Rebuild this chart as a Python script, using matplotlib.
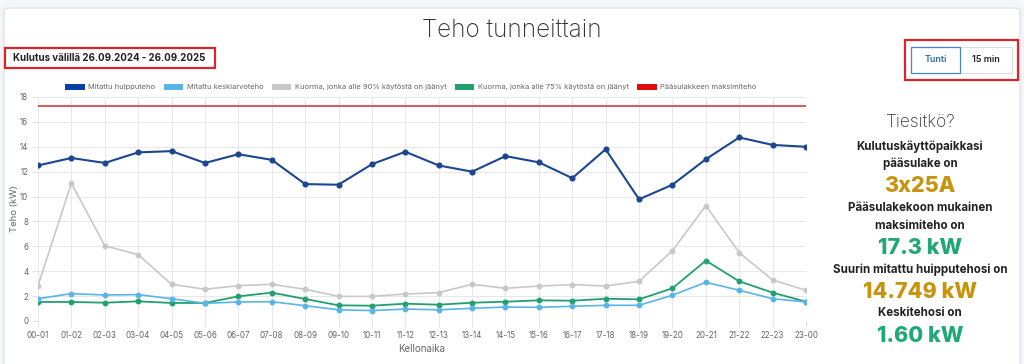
import matplotlib
matplotlib.use("Agg")
import matplotlib.pyplot as plt
from matplotlib.patches import FancyBboxPatch, Rectangle, Patch

W, H = 1024, 364

hours = ["00-01", "01-02", "02-03", "03-04", "04-05", "05-06", "06-07", "07-08",
         "08-09", "09-10", "10-11", "11-12", "12-13", "13-14", "14-15", "15-16",
         "16-17", "17-18", "18-19", "19-20", "20-21", "21-22", "22-23", "23-00"]
peak = [12.5, 13.1, 12.7, 13.55, 13.65, 12.7, 13.4, 12.95, 11.0, 10.95, 12.6, 13.6,
        12.5, 12.0, 13.25, 12.75, 11.48, 13.8, 9.78, 10.95, 13.0, 14.749, 14.15, 14.0]
avg = [1.79, 2.2, 2.09, 2.12, 1.79, 1.42, 1.53, 1.55, 1.23, 0.9, 0.84, 0.96,
       0.9, 1.02, 1.12, 1.1, 1.18, 1.26, 1.26, 2.07, 3.11, 2.47, 1.79, 1.53]
p90 = [2.84, 11.07, 6.05, 5.33, 2.95, 2.55, 2.84, 2.95, 2.55, 1.98, 1.98, 2.17,
       2.28, 2.95, 2.63, 2.81, 2.92, 2.81, 3.19, 5.65, 9.27, 5.49, 3.3, 2.47]
p75 = [1.53, 1.53, 1.47, 1.58, 1.45, 1.45, 1.98, 2.28, 1.77, 1.26, 1.23, 1.39,
       1.31, 1.47, 1.55, 1.66, 1.63, 1.79, 1.74, 2.63, 4.85, 3.19, 2.28, 1.55]
max_kw = 17.3

legend_labels = ["Mitattu huipputeho", "Mitattu keskiarvoteho",
                 "Kuorma, jonka alle 90% käytöstä on jäänyt",
                 "Kuorma, jonka alle 75% käytöstä on jäänyt",
                 "Pääsulakkeen maksimiteho"]

C_PEAK = "#1d4690"
C_PEAK_L = "#0b3ea6"
C_AVG = "#5ab4e6"
C_P90 = "#c8c8c8"
C_P75 = "#22a070"
C_MAX = "#d64a4a"
C_MAX_L = "#e00d0d"
GOLD = "#c8940e"
GREEN = "#20a876"

plt.rcParams['font.family'] = ['Inter', 'DejaVu Sans']

fig = plt.figure(figsize=(W / 100, H / 100), dpi=100)
fig.patch.set_facecolor("#f3f5f8")

def fx(x):
    return x / W

def fy(y):
    return 1 - y / H

# card
card = FancyBboxPatch((fx(4), fy(370)), fx(1016), (370 - 8) / H,
                      boxstyle="round,pad=0,rounding_size=0.006",
                      transform=fig.transFigure, facecolor="white",
                      edgecolor="#dfe3e8", linewidth=1.0, zorder=-5)
fig.patches.append(card)

# title
fig.text(fx(512), fy(30), "Teho tunneittain", ha="center", va="center",
         fontsize=17.5, color="#333333", fontweight="light")

# date range with red box
fig.patches.append(Rectangle((fx(5), fy(68)), fx(210), 20 / H, transform=fig.transFigure,
                             facecolor="none", edgecolor="#d9262e", linewidth=1.6))
fig.text(fx(13), fy(58), "Kulutus välillä 26.09.2024 - 26.09.2025", ha="left", va="center",
         fontsize=7.0, color="#222222", fontweight="bold")

# buttons
fig.patches.append(Rectangle((fx(905), fy(80)), fx(113), 40 / H, transform=fig.transFigure,
                             facecolor="none", edgecolor="#d9262e", linewidth=1.6))
fig.patches.append(Rectangle((fx(911), fy(73)), fx(101), 26 / H, transform=fig.transFigure,
                             facecolor="none", edgecolor="#dcdcdc", linewidth=0.8))
fig.patches.append(Rectangle((fx(911), fy(73)), fx(49), 26 / H, transform=fig.transFigure,
                             facecolor="none", edgecolor="#4a86c0", linewidth=0.9))
fig.text(fx(936), fy(60), "Tunti", ha="center", va="center", fontsize=6.5,
         color="#2f6fad", fontweight="semibold")
fig.text(fx(986), fy(60), "15 min", ha="center", va="center", fontsize=6.5,
         color="#222222", fontweight="semibold")

# chart
ax = fig.add_axes([fx(38), fy(321), fx(806 - 38), (321 - 97) / H])
ax.set_facecolor("white")
x = list(range(len(hours)))
ax.hlines(max_kw, x[0], x[-1], color=C_MAX, linewidth=1.3, zorder=2)
ax.plot(x, p90, color=C_P90, linewidth=1.2, marker="o", markersize=3.2, zorder=3)
ax.plot(x, p75, color=C_P75, linewidth=1.3, marker="o", markersize=3.2, zorder=4)
ax.plot(x, avg, color=C_AVG, linewidth=1.2, marker="o", markersize=3.2, zorder=5)
ax.plot(x, peak, color=C_PEAK, linewidth=1.5, marker="o", markersize=3.4, zorder=6)

ax.set_xlim(0, 23)
ax.set_ylim(0, 18)
ax.set_yticks(range(0, 19, 2))
ax.set_xticks(x)
ax.set_xticklabels(hours)
ax.grid(True, color="#e8e8e8", linewidth=0.7)
ax.set_axisbelow(True)
for s in ax.spines.values():
    s.set_visible(False)
ax.tick_params(axis="both", colors="#e0e0e0", labelcolor="#666666", labelsize=5.8,
               length=4, width=0.7)
ax.tick_params(axis="y", pad=3)
ax.tick_params(axis="x", pad=3)
ax.set_ylabel("Teho (kW)", fontsize=6.8, color="#666666", labelpad=1)
ax.set_xlabel("Kellonaika", fontsize=7, color="#666666", labelpad=3)

handles = [Patch(facecolor=c, edgecolor="none") for c in [C_PEAK_L, C_AVG, C_P90, C_P75, C_MAX_L]]
fig.legend(handles, legend_labels, loc="center", bbox_to_anchor=(fx(411), fy(87)),
           ncol=5, frameon=False, fontsize=5.4, labelcolor="#666666",
           handlelength=2.6, handleheight=0.9, handletextpad=0.5, columnspacing=1.1)

# right info panel
cx = fx(920)
fig.text(cx, fy(122), "Tiesitkö?", ha="center", va="center", fontsize=12.5,
         color="#333333", fontweight="light")
lines = [
    (147, "Kulutuskäyttöpaikkasi", 8.3, "#222222", "bold"),
    (164, "pääsulake on", 8.3, "#222222", "bold"),
    (186, "3x25A", 15.5, GOLD, "heavy"),
    (208, "Pääsulakekoon mukainen", 8.3, "#222222", "bold"),
    (226, "maksimiteho on", 8.3, "#222222", "bold"),
    (248, "17.3 kW", 15.5, GREEN, "heavy"),
    (270, "Suurin mitattu huipputehosi on", 8.3, "#222222", "bold"),
    (292, "14.749 kW", 15.5, GOLD, "heavy"),
    (313, "Keskitehosi on", 8.3, "#222222", "bold"),
    (336, "1.60 kW", 15.5, GREEN, "heavy"),
]
for yy, t, fs, col, fw in lines:
    fig.text(cx, fy(yy), t, ha="center", va="center", fontsize=fs, color=col,
             fontweight=fw)

fig.savefig("out.png", dpi=100, facecolor=fig.get_facecolor())
